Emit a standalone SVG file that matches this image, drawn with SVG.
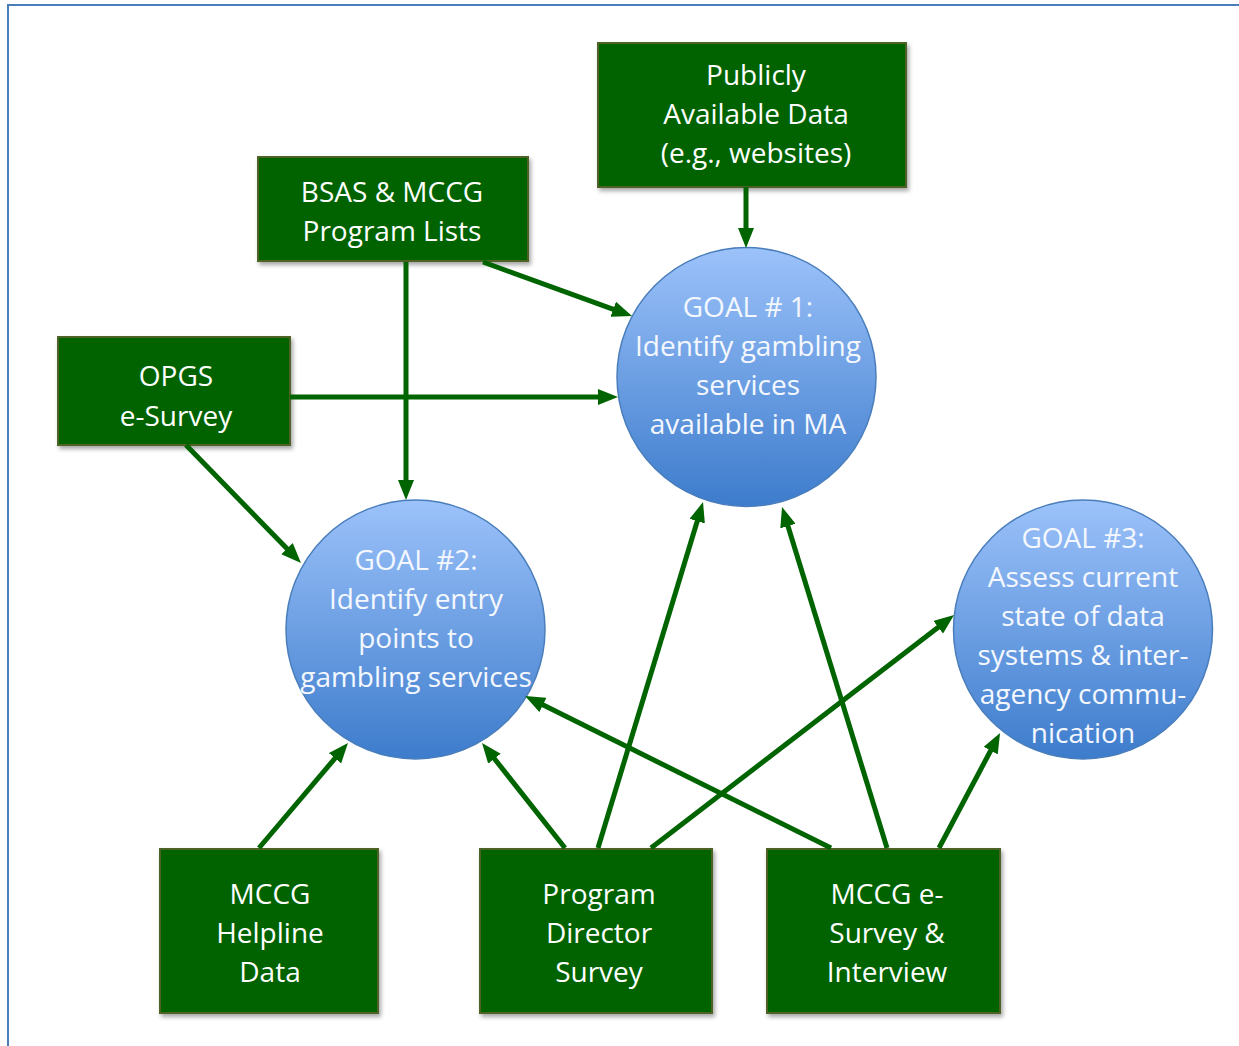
<svg xmlns="http://www.w3.org/2000/svg" width="1239" height="1046" viewBox="0 0 1239 1046">
<style>
.box{fill:#006400;stroke:#4f6228;stroke-width:2;filter:url(#sh)}
.goal{fill:url(#gg);stroke:#4a7ebb;stroke-width:1.5}
.bt{font-family:"Open Sans","Noto Sans",sans-serif;font-size:28px;fill:#ffffff;text-anchor:middle}
.gt{font-family:"Open Sans","Noto Sans",sans-serif;font-size:28px;fill:#f4f8fe;text-anchor:middle}
.con line{stroke:#006400;stroke-width:5;marker-end:url(#ah)}
</style>
<defs>
<linearGradient id="gg" x1="0" y1="0" x2="0" y2="1">
<stop offset="0" stop-color="#9cc2fa"/>
<stop offset="1" stop-color="#3d7ccc"/>
</linearGradient>
<filter id="sh" x="-10%" y="-10%" width="125%" height="130%">
<feDropShadow dx="2" dy="3" stdDeviation="2" flood-color="#000" flood-opacity="0.35"/>
</filter>
<marker id="ah" viewBox="0 0 20 16" refX="12" refY="8" markerWidth="20" markerHeight="16" markerUnits="userSpaceOnUse" orient="auto">
<path d="M0,0 L20,8 L0,16 z" fill="#006400"/>
</marker>
</defs>
<rect width="1239" height="1046" fill="#ffffff"/>
<path d="M8,1046 V5 H1239" fill="none" stroke="#4a7ebb" stroke-width="2"/>

<g id="publicly">
<rect class="box" x="598" y="43" width="308" height="144"/>
<text class="bt" x="756" y="85">Publicly</text>
<text class="bt" x="756" y="124">Available Data</text>
<text class="bt" x="756" y="163">(e.g., websites)</text>
</g>
<g id="bsas">
<rect class="box" x="258" y="157" width="270" height="104"/>
<text class="bt" x="392" y="202">BSAS &amp; MCCG</text>
<text class="bt" x="392" y="241">Program Lists</text>
</g>
<g id="opgs">
<rect class="box" x="58" y="337" width="232" height="108"/>
<text class="bt" x="176" y="386">OPGS</text>
<text class="bt" x="176" y="426">e-Survey</text>
</g>
<g id="helpline">
<rect class="box" x="160" y="849" width="218" height="164"/>
<text class="bt" x="270" y="904">MCCG</text>
<text class="bt" x="270" y="943">Helpline</text>
<text class="bt" x="270" y="982">Data</text>
</g>
<g id="progdir">
<rect class="box" x="480" y="849" width="232" height="164"/>
<text class="bt" x="599" y="904">Program</text>
<text class="bt" x="599" y="943">Director</text>
<text class="bt" x="599" y="982">Survey</text>
</g>
<g id="mccgsurvey">
<rect class="box" x="767" y="849" width="233" height="164"/>
<text class="bt" x="887" y="904">MCCG e-</text>
<text class="bt" x="887" y="943">Survey &amp;</text>
<text class="bt" x="887" y="982">Interview</text>
</g>
<g id="goal1">
<circle class="goal" cx="746.5" cy="377" r="129.5"/>
<text class="gt" x="748" y="317">GOAL # 1:</text>
<text class="gt" x="748" y="356">Identify gambling</text>
<text class="gt" x="748" y="395">services</text>
<text class="gt" x="748" y="434">available in MA</text>
</g>
<g id="goal2">
<circle class="goal" cx="415.5" cy="629.5" r="129.5"/>
<text class="gt" x="416" y="570">GOAL #2:</text>
<text class="gt" x="416" y="609">Identify entry</text>
<text class="gt" x="416" y="648">points to</text>
<text class="gt" x="416" y="687">gambling services</text>
</g>
<g id="goal3">
<circle class="goal" cx="1083" cy="629.5" r="129.5"/>
<text class="gt" x="1083" y="548">GOAL #3:</text>
<text class="gt" x="1083" y="587">Assess current</text>
<text class="gt" x="1083" y="626">state of data</text>
<text class="gt" x="1083" y="665">systems &amp; inter-</text>
<text class="gt" x="1083" y="704">agency commu-</text>
<text class="gt" x="1083" y="743">nication</text>
</g>

<g id="connectors" class="con">
<line x1="746" y1="187" x2="746" y2="240"/>
<line x1="483" y1="262" x2="624.5" y2="313.3"/>
<line x1="406" y1="262" x2="406" y2="492"/>
<line x1="290" y1="397" x2="610" y2="397"/>
<line x1="186" y1="445" x2="295.4" y2="557.3"/>
<line x1="259" y1="848" x2="342.8" y2="749.1"/>
<line x1="565" y1="848" x2="487" y2="749.3"/>
<line x1="598" y1="848" x2="700.7" y2="509.7"/>
<line x1="651" y1="848" x2="947.7" y2="619.9"/>
<line x1="831" y1="848" x2="532.2" y2="699.6"/>
<line x1="887" y1="848" x2="784.4" y2="514.6"/>
<line x1="939" y1="848" x2="996.3" y2="740"/>
</g>
</svg>
